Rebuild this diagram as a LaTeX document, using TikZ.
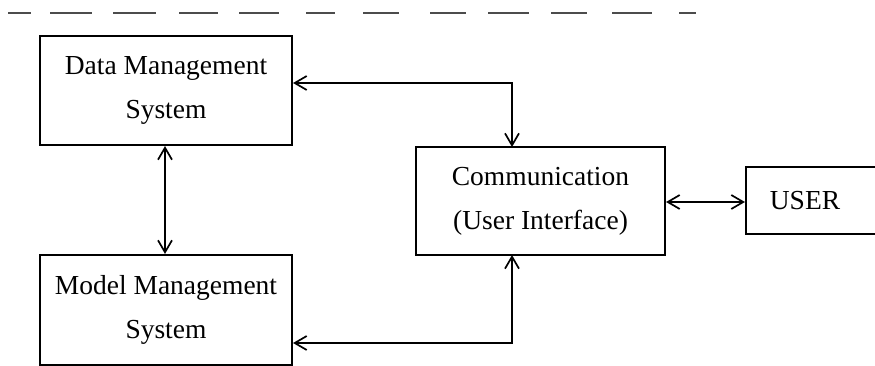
\documentclass[tikz,border=0pt]{standalone}
\usepackage{fontspec}
\setmainfont{Liberation Serif}
\usetikzlibrary{arrows.meta,calc}
\begin{document}
\begin{tikzpicture}[x=1pt,y=-1pt,
  box/.style={draw, line width=2.1pt, rectangle, align=center, inner sep=0pt,
    font={\fontsize{27.5}{44}\selectfont}},
  lbl/.style={inner sep=0pt, font={\fontsize{27.5}{44}\selectfont}},
  conn/.style={line width=2pt, {Straight Barb[length=12pt,width=14pt,line width=1.7pt]}-{Straight Barb[length=12pt,width=14pt,line width=1.7pt]}},
  scanline/.style={line width=1.2pt, draw=black!70}]
\useasboundingbox (0,0) rectangle (875,366);
% scan artefact at top
\foreach \a/\b in {8/31,50/92,113/156,179/218,239/279,306/335,363/399,430/466,488/529,551/587,612/652,679/696}
  \draw[scanline] (\a,13) -- (\b,13);
% boxes
\node[box, minimum width=252pt, minimum height=109pt] (data) at (166,90.5) {Data Management\\System};
\node[box, minimum width=252pt, minimum height=110pt] (model) at (166,310) {Model Management\\System};
\node[box, minimum width=249pt, minimum height=108pt] (comm) at (540.5,201) {Communication\\(User Interface)};
\node[box, minimum width=134pt, minimum height=67pt] (user) at (813,200.5) {};
\node[lbl] (userlbl) at (805,201) {USER};
% connectors
\coordinate (dc) at (512,147);
\coordinate (mc) at (512,255);
\draw[conn] (data.east |- 0,83) -| (dc);
\draw[conn] (model.east |- 0,343) -| (mc);
\draw[conn] (data.south -| 165,0) -- (model.north -| 165,0);
\draw[conn] (comm.east |- 0,202) -- (user.west |- 0,202);
\end{tikzpicture}
\end{document}
